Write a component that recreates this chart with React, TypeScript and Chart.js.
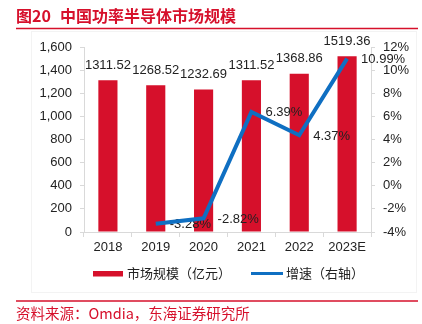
import React, { useEffect, useRef } from 'react';
import { Chart, registerables } from 'chart.js';

Chart.register(...registerables);

const categories = ['2018', '2019', '2020', '2021', '2022', '2023E'];
const marketSize = [1311.52, 1268.52, 1232.69, 1311.52, 1368.86, 1519.36];
const growth: (number | null)[] = [null, -3.28, -2.82, 6.39, 4.37, 10.99];
const leftAxis = { min: 0, max: 1600, step: 200 };
const rightAxis = { min: -4, max: 12, step: 2 };

const titleNo = '图20';
const titleText = '中国功率半导体市场规模';
const sourceText = '资料来源：Omdia，东海证券研究所';
const legendBar = '市场规模（亿元）';
const legendLine = '增速（右轴）';

const RED = '#d6102b';
const BLUE = '#0f6fc2';
const AXIS = '#d9d9d9';
const TXT = '#222222';
const NUM_FONT = '"Liberation Sans", Arial, sans-serif';
const CJK_FONT = '"Noto Sans CJK SC", "Liberation Sans", sans-serif';

const decorPlugin = {
  id: 'decor',
  beforeDraw(chart: any) {
    const ctx = chart.ctx;
    ctx.save();
    ctx.fillStyle = '#ffffff';
    ctx.fillRect(0, 0, chart.width, chart.height);
    // faint panel
    ctx.strokeStyle = '#f3f3f3';
    ctx.lineWidth = 1;
    ctx.strokeRect(31.5, 31.5, 385, 261);
    // title
    ctx.fillStyle = RED;
    ctx.font = `bold 16px ${CJK_FONT}`;
    ctx.textBaseline = 'middle';
    ctx.textAlign = 'left';
    ctx.fillText(titleNo, 16, 16);
    ctx.fillText(titleText, 60, 16);
    ctx.strokeStyle = RED;
    ctx.lineWidth = 1.5;
    ctx.beginPath();
    ctx.moveTo(16, 28.5);
    ctx.lineTo(418, 28.5);
    ctx.stroke();
    // footer
    ctx.beginPath();
    ctx.moveTo(16, 301);
    ctx.lineTo(418, 301);
    ctx.stroke();
    ctx.font = `14.5px ${CJK_FONT}`;
    ctx.fillText(sourceText, 16, 313);
    // legend
    ctx.fillStyle = RED;
    ctx.fillRect(93, 271, 30, 5.5);
    ctx.fillStyle = TXT;
    ctx.font = `13px ${CJK_FONT}`;
    ctx.fillText(legendBar, 127, 273.5);
    ctx.strokeStyle = BLUE;
    ctx.lineWidth = 3;
    ctx.beginPath();
    ctx.moveTo(251, 273.5);
    ctx.lineTo(283, 273.5);
    ctx.stroke();
    ctx.fillText(legendLine, 286, 273.5);
    ctx.restore();
  },
  afterDatasetDraw(chart: any, args: any) {
    if (args.index !== 0) return;
    const ctx = chart.ctx;
    ctx.save();
    ctx.fillStyle = TXT;
    ctx.font = `13px ${NUM_FONT}`;
    ctx.textBaseline = 'middle';
    const barMeta = chart.getDatasetMeta(0);
    barMeta.data.forEach((el: any, i: number) => {
      ctx.textAlign = 'center';
      ctx.fillText(marketSize[i].toFixed(2), el.x, el.y - 15);
    });
    const lineMeta = chart.getDatasetMeta(1);
    lineMeta.data.forEach((el: any, i: number) => {
      const v = growth[i];
      if (v === null) return;
      ctx.textAlign = 'left';
      ctx.fillText(v.toFixed(2) + '%', el.x + 14, el.y + 1);
    });
    ctx.restore();
  },
};

export default function App() {
  const ref = useRef<HTMLCanvasElement>(null);
  useEffect(() => {
    if (!ref.current) return;
    const chart = new Chart(ref.current, {
      type: 'bar',
      data: {
        labels: categories,
        datasets: [
          {
            type: 'bar',
            label: legendBar,
            data: marketSize,
            backgroundColor: RED,
            yAxisID: 'y',
            order: 2,
            barPercentage: 0.4,
            categoryPercentage: 1,
          },
          {
            type: 'line',
            label: legendLine,
            data: growth,
            borderColor: BLUE,
            backgroundColor: BLUE,
            borderWidth: 4,
            pointRadius: 0,
            tension: 0,
            yAxisID: 'y1',
            order: 1,
          } as any,
        ],
      },
      options: {
        responsive: false,
        animation: false,
        devicePixelRatio: 1,
        layout: { padding: { top: 47, bottom: 64, left: 0, right: 0 } },
        plugins: {
          legend: { display: false },
          tooltip: { enabled: false },
          title: { display: false },
        },
        scales: {
          x: {
            grid: { drawOnChartArea: false, tickLength: 5, color: AXIS, offset: true },
            border: { color: AXIS },
            ticks: { color: TXT, font: { family: NUM_FONT, size: 13 }, padding: 3, maxRotation: 0 },
            afterFit: (s: any) => { s.height = 28; },
          },
          y: {
            position: 'left',
            min: leftAxis.min,
            max: leftAxis.max,
            grid: { drawOnChartArea: false, tickLength: 4, color: AXIS },
            border: { color: AXIS },
            ticks: {
              stepSize: leftAxis.step,
              color: TXT,
              font: { family: NUM_FONT, size: 13 },
              padding: 8,
              callback: (v: any) => Number(v).toLocaleString('en-US'),
            },
            afterFit: (s: any) => { s.width = 84; },
          },
          y1: {
            position: 'right',
            min: rightAxis.min,
            max: rightAxis.max,
            grid: { drawOnChartArea: false, tickLength: 4, color: AXIS },
            border: { color: AXIS },
            ticks: {
              stepSize: rightAxis.step,
              color: TXT,
              font: { family: NUM_FONT, size: 13 },
              padding: 8,
              callback: (v: any) => `${v}%`,
            },
            afterFit: (s: any) => { s.width = 51; },
          },
        },
      } as any,
      plugins: [decorPlugin],
    });
    return () => chart.destroy();
  }, []);
  return (
    <div style={{ position: 'absolute', left: 0, top: 0, width: 422, height: 324 }}>
      <canvas ref={ref} width={422} height={324} style={{ width: 422, height: 324 }} />
    </div>
  );
}
